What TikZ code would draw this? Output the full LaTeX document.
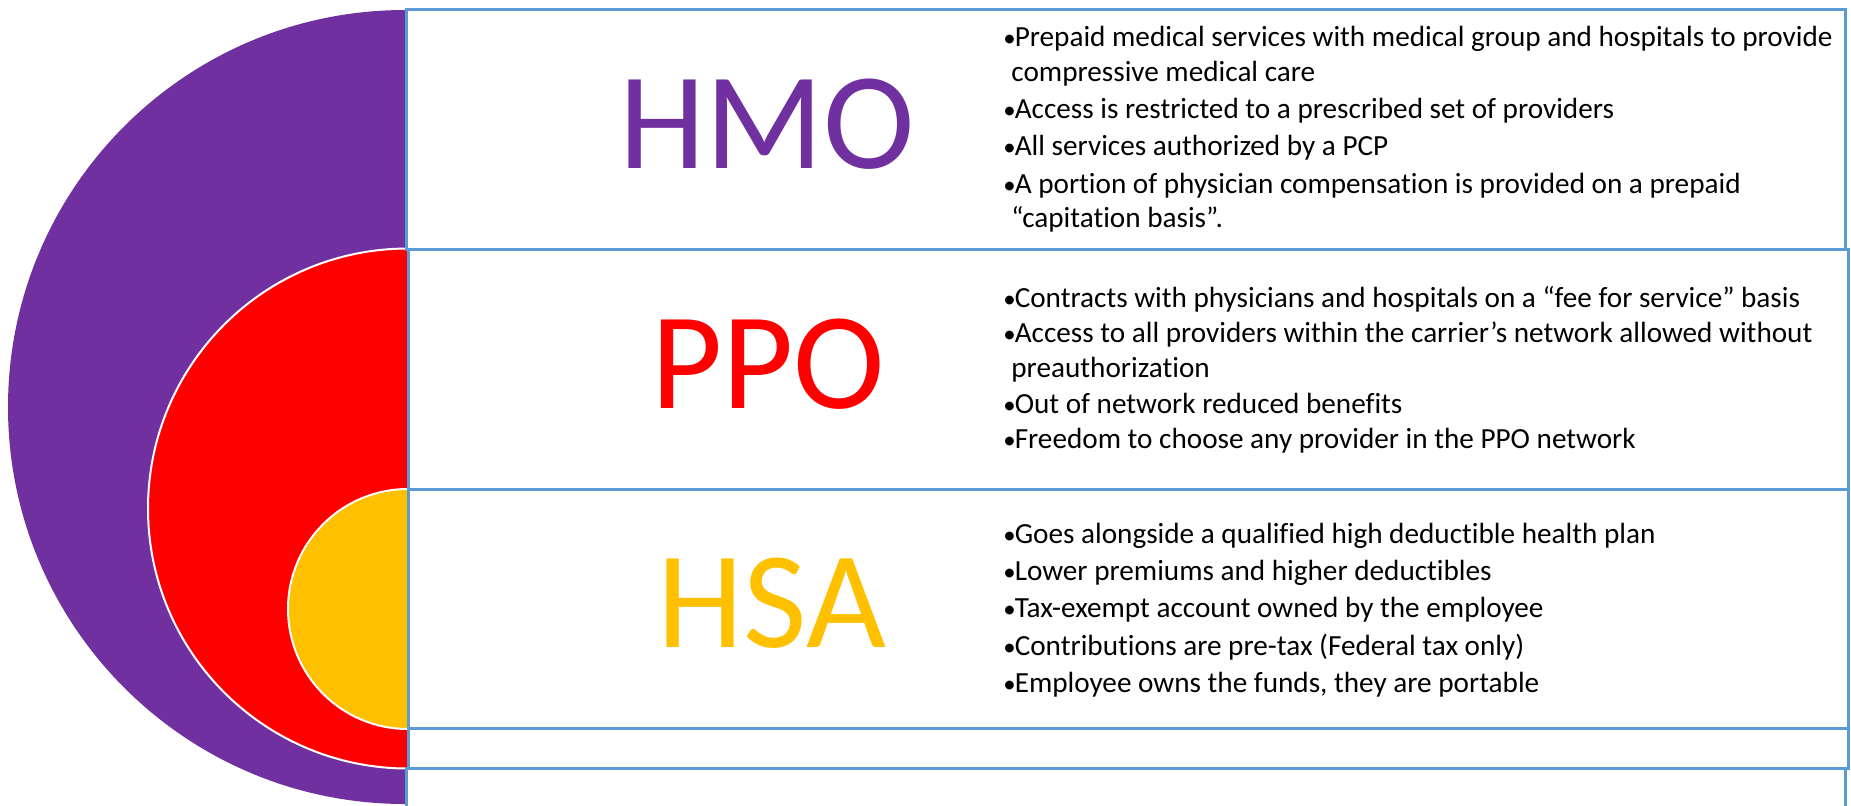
\documentclass[tikz,border=0pt]{standalone}
\usepackage{fontspec}
\setmainfont{Carlito}[Ligatures=NoCommon]
\definecolor{hmocol}{HTML}{7030A0}
\definecolor{ppocol}{HTML}{FF0000}
\definecolor{hsacol}{HTML}{FFC000}
\definecolor{framecol}{HTML}{5B9BD5}
\newcommand{\blt}{\kern0.5pt\scalebox{0.85}{•}\kern-0.5pt}
\begin{document}
\begin{tikzpicture}[x=0.5pt,y=-0.5pt,
  band/.style={draw=framecol, line width=1.5pt, fill=white},
  title/.style={font=\fontsize{69}{80}\selectfont, anchor=base, inner sep=0pt},
  item/.style={font=\fontsize{14.6}{17}\selectfont, anchor=base west, inner sep=0pt, text=black}]
\useasboundingbox (0,0) rectangle (1851,805);
% nested half discs
\begin{scope}
  \clip (0,0) rectangle (405,805);
  \fill[hmocol] (405,407) circle[radius=397];
\end{scope}
\begin{scope}
  \clip (0,0) rectangle (408,805);
  \filldraw[fill=ppocol, draw=white, line width=1pt] (408,508.5) circle[radius=260];
  \filldraw[fill=hsacol, draw=white, line width=1pt] (408,609) circle[radius=120];
\end{scope}
% bands
\draw[band] (406,9) rectangle (1845,249);
\draw[band] (408,249) rectangle (1848,489);
\draw[band] (408,489) rectangle (1848,728);
\draw[band] (408,728) rectangle (1848,768);
\draw[band] (406,815) -- (406,768) -- (1845,768) -- (1845,815);
% titles
\node[title, text=hmocol] (thmo) at (767,168) {HMO};
\node[title, text=ppocol] (tppo) at (768,408) {PPO};
\node[title, text=hsacol] (thsa) at (772,647) {HSA};
% HMO items
\node[item] (h1) at (1002,46) {\blt Prepaid medical services with medical group and hospitals to provide};
\node[item] (h2) at (1011,81) {compressive medical care};
\node[item] (h3) at (1002,118) {\blt Access is restricted to a prescribed set of providers};
\node[item] (h4) at (1002,155) {\blt All services authorized by a PCP};
\node[item] (h5) at (1002,193) {\blt A portion of physician compensation is provided on a prepaid};
\node[item] (h6) at (1011,227) {“capitation basis”.};
% PPO items
\node[item] (p1) at (1002,307) {\blt Contracts with physicians and hospitals on a “fee for service” basis};
\node[item] (p2) at (1002,342) {\blt Access to all providers within the carrier’s network allowed without};
\node[item] (p3) at (1011,377) {preauthorization};
\node[item] (p4) at (1002,413) {\blt Out of network reduced benefits};
\node[item] (p5) at (1002,448) {\blt Freedom to choose any provider in the PPO network};
% HSA items
\node[item] (s1) at (1002,543) {\blt Goes alongside a qualified high deductible health plan};
\node[item] (s2) at (1002,580) {\blt Lower premiums and higher deductibles};
\node[item] (s3) at (1002,617) {\blt Tax-exempt account owned by the employee};
\node[item] (s4) at (1002,655) {\blt Contributions are pre-tax (Federal tax only)};
\node[item] (s5) at (1002,692) {\blt Employee owns the funds, they are portable};
\end{tikzpicture}
\end{document}
